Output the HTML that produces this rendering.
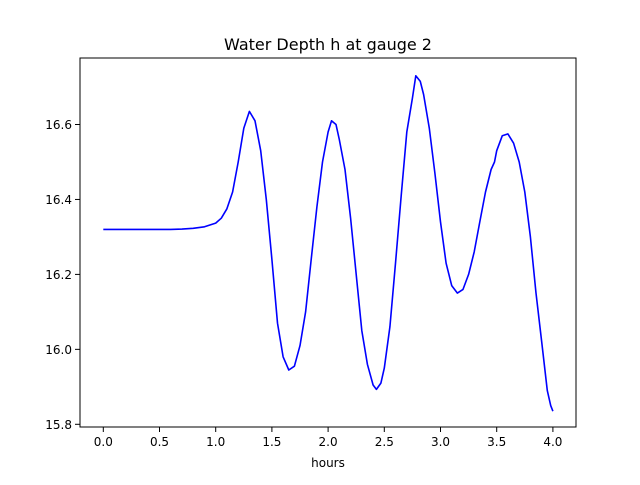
<!DOCTYPE html>
<html><head><meta charset="utf-8"><style>
body{margin:0;background:#fff}
svg text{font-family:"DejaVu Sans","Liberation Sans",sans-serif;fill:#000}
</style></head><body>
<svg id="chart" width="640" height="480" xmlns="http://www.w3.org/2000/svg">
<rect width="640" height="480" fill="#fff"/>
<g id="plot"></g>
</svg>
<script>
const times=[0,0.2,0.4,0.6,0.7,0.8,0.9,1.0,1.05,1.1,1.15,1.2,1.25,1.3,1.35,1.4,1.45,1.5,1.55,1.6,1.65,1.7,1.75,1.8,1.85,1.9,1.95,2.0,2.03,2.07,2.1,2.15,2.2,2.25,2.3,2.35,2.4,2.43,2.47,2.5,2.55,2.6,2.65,2.7,2.75,2.78,2.82,2.85,2.9,2.95,3.0,3.05,3.1,3.15,3.2,3.25,3.3,3.35,3.4,3.45,3.48,3.5,3.55,3.6,3.65,3.7,3.75,3.8,3.85,3.9,3.95,3.98,4.0];
const depth=[16.32,16.32,16.32,16.32,16.321,16.323,16.327,16.337,16.35,16.375,16.42,16.5,16.59,16.635,16.61,16.53,16.4,16.24,16.07,15.98,15.945,15.955,16.01,16.1,16.24,16.38,16.5,16.58,16.61,16.6,16.56,16.48,16.35,16.2,16.05,15.96,15.905,15.893,15.91,15.95,16.06,16.23,16.41,16.58,16.67,16.73,16.715,16.68,16.59,16.47,16.34,16.23,16.17,16.15,16.16,16.2,16.26,16.34,16.42,16.48,16.5,16.53,16.57,16.575,16.55,16.5,16.42,16.3,16.15,16.02,15.89,15.85,15.835];
const xTicks=[0,0.5,1.0,1.5,2.0,2.5,3.0,3.5,4.0];
const xTickLabels=["0.0","0.5","1.0","1.5","2.0","2.5","3.0","3.5","4.0"];
const yTicks=[15.8,16.0,16.2,16.4,16.6];
const yTickLabels=["15.8","16.0","16.2","16.4","16.6"];
const NS="http://www.w3.org/2000/svg";
const L=80,R=576,T=58,B=427;
const xs=v=>103.3+v*112.4;
const ys=v=>124.5-(v-16.6)*374.75;
const g=document.getElementById('plot');
function mk(tag,attrs){const e=document.createElementNS(NS,tag);for(const k in attrs)e.setAttribute(k,attrs[k]);g.appendChild(e);return e;}
const pts=times.map((t,i)=>xs(t).toFixed(1)+','+ys(depth[i]).toFixed(1)).join(' ');
const line=mk('polyline',{points:pts,fill:'none',stroke:'#0000ff','stroke-width':1.6,'stroke-linejoin':'round'});


const frame=mk('rect',{x:L,y:T,width:R-L,height:B-T,fill:'none',stroke:'#000','stroke-width':1});


xTicks.forEach((v,i)=>{
  const x=xs(v);
  const t=mk('line',{x1:x,x2:x,y1:B,y2:B+5,stroke:'#000'});
  
  
  const tx=mk('text',{x:x,y:B+19,'text-anchor':'middle','font-size':12});
  tx.textContent=xTickLabels[i];
  
  
});
yTicks.forEach((v,i)=>{
  const y=ys(v);
  const t=mk('line',{x1:L-5,x2:L,y1:y,y2:y,stroke:'#000'});
  
  
  const tx=mk('text',{x:L-8,y:y+4.5,'text-anchor':'end','font-size':12});
  tx.textContent=yTickLabels[i];
  
  
});
const title=mk('text',{x:328,y:50,'text-anchor':'middle','font-size':16});
title.textContent='Water Depth h at gauge 2';


const xl=mk('text',{x:328,y:467,'text-anchor':'middle','font-size':12});
xl.textContent='hours';


</script>
</body></html>
